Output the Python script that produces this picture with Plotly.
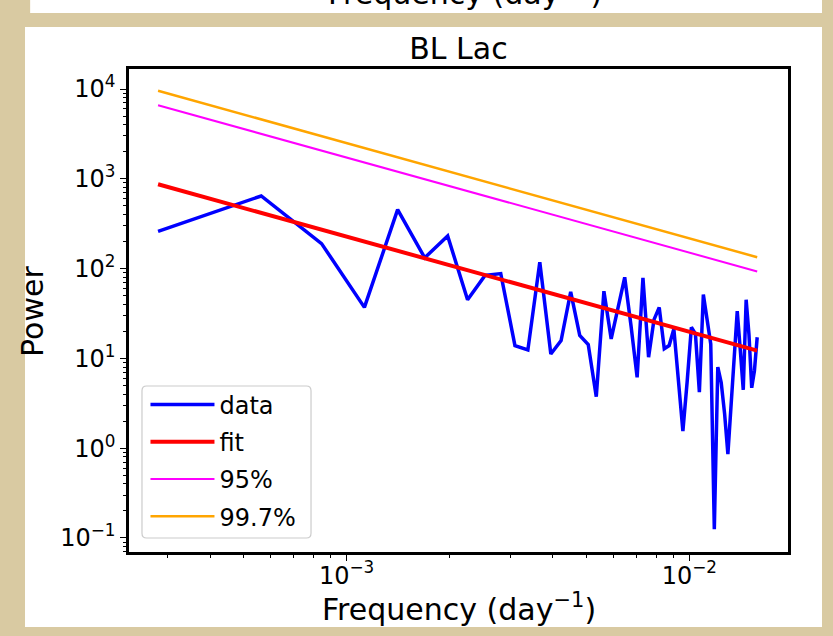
import plotly.graph_objects as go

# Periodogram frequencies (day^-1)
freq = [0.0002817, 0.0005634, 0.0008451, 0.001127, 0.001409, 0.001690, 0.001972,
        0.002254, 0.002535, 0.002817, 0.003099, 0.003380, 0.003662, 0.003944,
        0.004226, 0.004507, 0.004789, 0.005071, 0.005352, 0.005634, 0.005916,
        0.006197, 0.006479, 0.006761, 0.007043, 0.007324, 0.007606, 0.007888,
        0.008169, 0.008451, 0.008733, 0.009014, 0.009296, 0.009578, 0.009860,
        0.01014, 0.01042, 0.01070, 0.01099, 0.01127, 0.01155, 0.01183, 0.01211,
        0.01239, 0.01268, 0.01296, 0.01324, 0.01352, 0.01380, 0.01409, 0.01437,
        0.01465, 0.01493, 0.01521, 0.01549, 0.01578]

power = [260, 644, 190, 37, 454, 132, 231, 45, 84, 88, 13.9, 12.4, 118, 11.2,
         15.8, 55, 18, 14.3, 3.75, 56, 16.5, 37, 80, 23, 6.15, 79, 10.3, 27,
         37, 12.8, 13.9, 21.3, 5.8, 1.55, 5.6, 22.2, 18.8, 4.2, 51.5, 26, 14.5,
         0.125, 8.0, 5.4, 2.4, 0.86, 2.7, 9.5, 33.6, 12.2, 4.45, 45, 18.5, 4.7,
         7.3, 17.2]

# Power-law fit and significance levels (values at first and last frequency)
fit_freq = [freq[0], freq[-1]]
fit_power = [870, 12.2]
conf95_power = [6600, 93]
conf997_power = [9570, 134]

# tick labels
x_tickvals = [1e-3, 1e-2]
x_ticktext = ["10<sup>\u22123</sup>", "10<sup>\u22122</sup>"]
y_tickvals = [1e-1, 1e0, 1e1, 1e2, 1e3, 1e4]
y_ticktext = ["10<sup>\u22121</sup>", "10<sup>0</sup>", "10<sup>1</sup>",
              "10<sup>2</sup>", "10<sup>3</sup>", "10<sup>4</sup>"]

title_text = "BL Lac"
x_label = "Frequency (day<sup>\u22121</sup>)"
y_label = "Power"
legend_names = ["data", "fit", "95%", "99.7%"]

FONT = "DejaVu Sans"
PARCHMENT = "#d9caa2"

fig = go.Figure()
fig.add_trace(go.Scatter(x=freq, y=power, mode="lines", name=legend_names[0],
                         legendgroup="a", line=dict(color="#0000ff", width=3.5)))
fig.add_trace(go.Scatter(x=fit_freq, y=fit_power, mode="lines", name=legend_names[1],
                         legendgroup="b", line=dict(color="#ff0000", width=4)))
fig.add_trace(go.Scatter(x=fit_freq, y=conf95_power, mode="lines", name=legend_names[2],
                         legendgroup="c", line=dict(color="#ff00ff", width=2)))
fig.add_trace(go.Scatter(x=fit_freq, y=conf997_power, mode="lines", name=legend_names[3],
                         legendgroup="d", line=dict(color="#ffa500", width=2.5)))

axis_common = dict(
    type="log", tickmode="array",
    showline=True, mirror=True, linecolor="black", linewidth=2.5,
    ticks="outside", ticklen=6, tickwidth=1.2, tickcolor="black",
    showgrid=False, zeroline=False,
    tickfont=dict(family=FONT, size=24, color="black"),
    minor=dict(ticks="outside", ticklen=3.5, tickwidth=1, tickcolor="black",
               dtick="D1", showgrid=False),
)

fig.update_layout(
    width=833, height=636,
    margin=dict(l=129, r=45, t=69, b=84),
    paper_bgcolor=PARCHMENT, plot_bgcolor="white",
    font=dict(family=FONT, color="black"),
    title=dict(text=title_text, x=0.5, xref="paper", xanchor="center",
               y=1.0, yref="paper", yanchor="bottom", pad=dict(b=10),
               font=dict(family=FONT, size=30, color="black")),
    xaxis=dict(axis_common, range=[-3.635, -1.712],
               tickvals=x_tickvals, ticktext=x_ticktext, ticklabelstandoff=-6),
    yaxis=dict(axis_common, range=[-1.156, 4.223],
               tickvals=y_tickvals, ticktext=y_ticktext),
    legend=dict(x=0.025, y=0.351, xanchor="left", yanchor="top",
                bgcolor="rgba(0,0,0,0)", borderwidth=0,
                itemwidth=64, tracegroupgap=3,
                font=dict(family=FONT, size=24, color="black")),
    showlegend=True,
)

# axis titles
fig.add_annotation(text=x_label, xref="paper", yref="paper", x=0.5, y=-0.1139,
                   xanchor="center", yanchor="middle", showarrow=False,
                   font=dict(family=FONT, size=30, color="black"))
fig.add_annotation(text=y_label, xref="paper", yref="paper", x=-0.1457, y=0.499,
                   xanchor="center", yanchor="middle", showarrow=False, textangle=-90,
                   font=dict(family=FONT, size=30, color="black"))

# legend frame (rounded, light grey edge, translucent white)
lx0, lx1, ly0, ly1 = 0.0197, 0.2762, 0.029, 0.3437
rx, ry = 0.007, 0.010
legend_path = (f"M{lx0+rx},{ly0} L{lx1-rx},{ly0} Q{lx1},{ly0} {lx1},{ly0+ry} "
               f"L{lx1},{ly1-ry} Q{lx1},{ly1} {lx1-rx},{ly1} L{lx0+rx},{ly1} "
               f"Q{lx0},{ly1} {lx0},{ly1-ry} L{lx0},{ly0+ry} Q{lx0},{ly0} {lx0+rx},{ly0} Z")
fig.add_shape(type="path", path=legend_path, xref="paper", yref="paper", layer="above",
              fillcolor="rgba(255,255,255,0.8)", line=dict(color="#cccccc", width=1.2))

# white figure canvas on the parchment background
fig.add_shape(type="rect", xref="paper", yref="paper", layer="below",
              x0=-0.1578, x1=1.0516, y0=-0.1553, y1=1.087,
              fillcolor="white", line=dict(width=0))
# the bottom strip of the previous figure at the top of the page
fig.add_shape(type="rect", xref="paper", yref="paper", layer="below",
              x0=-0.150, x1=1.0516, y0=1.116, y1=1.25,
              fillcolor="white", line=dict(width=0))
fig.add_annotation(text="Frequency (day<sup>\u22121</sup>)", xref="paper", yref="paper",
                   x=0.51, y=1.116, xanchor="center", yanchor="bottom",
                   showarrow=False, font=dict(family=FONT, size=30, color="black"))

fig.write_html("out.html")
